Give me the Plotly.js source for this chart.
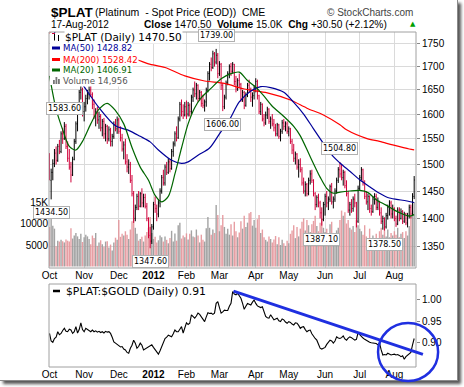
<!DOCTYPE html>
<html><head><meta charset="utf-8">
<script src="https://cdn.plot.ly/plotly-3.0.1.min.js"></script>
<style>
html,body{margin:0;padding:0;background:#fff;}
#wrap{position:relative;width:464px;height:387px;overflow:hidden;background:#fff;}
#frame{position:absolute;left:0;top:0;width:457px;height:380px;border-right:1px solid #8a8a8a;border-bottom:1px solid #8a8a8a;background:#fff;box-shadow:3px 3px 3px #555;}
#chart{position:absolute;left:0;top:0;width:464px;height:387px;}
</style></head><body>
<div id="wrap"><div id="frame"></div><div id="chart"></div></div>
<script>
// ---- data (trading days Oct-2011 .. 17-Aug-2012) ----
const monthDays = [21,21,21,20,20,22,20,22,21,21,13];
const monthLabels = ['Oct','Nov','Dec','<b>2012</b>','Feb','Mar','Apr','May','Jun','Jul','Aug'];

const open = [
1515,1470,1485,1502,1522,1508,1535,1525,1560,1550,1575,1535,1512,1495,1480,1510,1545,1580,1600,1645,1650,
1605,1615,1632,1640,1650,1640,1620,1598,1605,1588,1595,1572,1585,1560,1575,1550,1568,1545,1555,1578,1570,
1588,1565,1552,1530,1538,1505,1495,1500,1470,1445,1400,1420,1440,1422,1445,1428,1438,1422,1400,1370,1360,
1385,1425,1418,1408,1428,1450,1475,1465,1495,1485,1505,1492,1525,1540,1560,1552,1590,1620,1605,1598,
1615,1600,1618,1605,1635,1650,1642,1660,1632,1645,1622,1618,1625,1650,1685,1705,1698,1728,1710,1725,
1685,1705,1660,1615,1635,1665,1685,1700,1690,1705,1668,1652,1670,1662,1632,1645,1618,1640,1660,1650,1635,1638,
1655,1668,1638,1605,1620,1590,1582,1598,1610,1585,1590,1580,1572,1560,1578,1555,1565,1582,1575,1580,
1565,1570,1545,1528,1512,1520,1495,1500,1490,1465,1450,1462,1445,1470,1482,1470,1445,1425,1438,1428,1410,1398,
1425,1440,1428,1435,1458,1430,1435,1450,1470,1490,1482,1475,1485,1460,1445,1415,1425,1418,1435,1428,1395,
1455,1475,1490,1465,1440,1430,1440,1418,1412,1435,1440,1420,1430,1410,1395,1400,1385,1405,1420,1428,1408,
1418,1400,1390,1415,1400,1412,1395,1408,1392,1405,1420,1408,1440];
const high = [
1522,1492,1510,1530,1535,1540,1548,1565,1572,1583.6,1580,1545,1530,1505,1515,1550,1585,1610,1650,1662,1655,
1625,1640,1650,1658,1660,1645,1630,1612,1615,1605,1600,1590,1592,1580,1578,1575,1572,1560,1585,1590,1595,
1592,1575,1560,1545,1550,1520,1510,1505,1480,1450,1425,1445,1450,1448,1455,1445,1445,1428,1402,1385,1390,
1430,1440,1425,1435,1455,1480,1490,1500,1505,1512,1510,1530,1545,1565,1575,1595,1625,1630,1620,1625,
1628,1625,1622,1640,1655,1668,1665,1662,1650,1648,1640,1630,1655,1690,1710,1720,1735,1732,1739,1730,
1712,1708,1665,1640,1670,1690,1705,1708,1710,1706,1680,1675,1685,1665,1650,1648,1645,1665,1672,1655,1645,1660,
1675,1672,1640,1625,1622,1600,1605,1615,1612,1595,1600,1590,1580,1582,1580,1570,1588,1590,1585,1585,
1575,1572,1550,1540,1525,1522,1510,1512,1495,1475,1468,1465,1475,1489,1490,1472,1448,1442,1445,1432,1420,1430,
1445,1450,1440,1462,1465,1440,1455,1475,1495,1504.8,1500,1490,1488,1470,1450,1430,1435,1440,1445,1430,1460,
1480,1495,1492,1470,1450,1445,1442,1425,1440,1446,1445,1438,1432,1420,1405,1402,1410,1425,1433,1432,1425,
1420,1405,1420,1420,1418,1415,1412,1410,1410,1425,1425,1446,1478];
const low = [
1470,1434.5,1470,1495,1500,1505,1520,1522,1540,1548,1530,1505,1490,1466,1478,1508,1540,1565,1598,1630,1595,
1585,1605,1620,1630,1635,1610,1590,1575,1580,1570,1565,1555,1550,1545,1540,1545,1535,1535,1550,1565,1560,
1560,1545,1525,1510,1500,1485,1482,1465,1440,1392,1395,1415,1415,1420,1420,1420,1418,1395,1365,1347.6,1355,
1380,1410,1395,1402,1420,1445,1460,1460,1480,1482,1485,1490,1515,1535,1545,1550,1585,1595,1590,1595,
1590,1595,1595,1600,1625,1635,1630,1625,1628,1615,1612,1605,1615,1645,1670,1690,1695,1700,1705,1675,
1680,1650,1606,1610,1630,1660,1675,1680,1685,1660,1645,1648,1655,1625,1625,1610,1615,1635,1645,1625,1615,1630,
1645,1630,1600,1598,1585,1575,1578,1590,1580,1570,1575,1565,1555,1555,1550,1545,1560,1568,1565,1560,
1555,1540,1520,1505,1500,1490,1475,1485,1460,1445,1440,1440,1442,1462,1465,1440,1415,1420,1420,1400,1387.1,1395,
1405,1420,1415,1430,1425,1418,1430,1445,1465,1475,1470,1460,1455,1440,1410,1405,1410,1412,1420,1384,1392,
1450,1470,1460,1435,1425,1415,1410,1405,1410,1425,1415,1415,1405,1390,1380,1378.5,1382,1398,1405,1400,1400,
1395,1385,1388,1395,1398,1390,1392,1388,1384,1400,1400,1405,1435];
const close = [
1478,1485,1502,1522,1508,1535,1525,1560,1550,1575,1535,1512,1495,1480,1510,1545,1580,1600,1645,1650,1605,
1615,1632,1640,1650,1640,1620,1598,1605,1588,1595,1572,1585,1560,1575,1550,1568,1545,1555,1578,1570,1588,
1565,1552,1530,1538,1505,1495,1500,1470,1445,1400,1420,1440,1422,1445,1428,1438,1422,1400,1370,1360,1385,
1425,1418,1408,1428,1450,1475,1465,1495,1485,1505,1492,1525,1540,1560,1552,1590,1620,1605,1598,1615,
1600,1618,1605,1635,1650,1642,1660,1632,1645,1622,1618,1625,1650,1685,1705,1698,1728,1710,1725,1685,
1705,1660,1615,1635,1665,1685,1700,1690,1705,1668,1652,1670,1662,1632,1645,1618,1640,1660,1650,1635,1638,1655,
1668,1638,1605,1620,1590,1582,1598,1610,1585,1590,1580,1572,1560,1578,1555,1565,1582,1575,1580,1565,
1570,1545,1528,1512,1520,1495,1500,1490,1465,1450,1462,1445,1470,1482,1470,1445,1425,1438,1428,1410,1398,1425,
1440,1428,1435,1458,1430,1435,1450,1470,1490,1482,1475,1485,1460,1445,1415,1425,1418,1435,1428,1395,1455,
1475,1490,1465,1440,1430,1440,1418,1412,1435,1440,1420,1430,1410,1395,1400,1385,1405,1420,1428,1408,1418,
1400,1390,1415,1400,1412,1395,1408,1392,1405,1420,1408,1440,1470.5];
const volume = [
9200,12000,9500,8800,4700,6000,5800,6200,5900,5600,6300,6000,5800,8900,6500,7200,7800,7000,6400,7600,5700,
6800,7400,7000,6400,5200,7200,6600,7800,4800,5600,6100,5200,4600,5800,5900,4400,5100,3700,5600,6700,6200,
10800,6900,7600,7200,8200,7400,6400,8600,10500,13200,9000,7600,6000,6400,6900,5800,7200,8000,9000,11500,7800,
6400,6900,5600,6100,7200,6800,5800,7000,6200,5400,6600,8300,5800,7700,6000,9600,10200,6500,7200,6800,
7700,6300,7600,8400,7000,6800,8600,7200,5600,7400,6200,5800,8900,11500,9000,7400,8600,7800,14300,12000,
8200,9600,12000,9200,7600,8800,7400,9800,7200,10400,8200,6800,7900,10500,8800,11800,9200,10200,12400,12700,9500,10800,
9000,11000,12000,7800,8600,6800,6200,5800,7000,6400,5600,6300,7100,5200,6800,5000,6200,5400,4800,6000,
5400,7600,8400,9600,6600,9200,7000,8800,10400,11200,8400,10800,9600,8000,9800,10600,11800,9400,8200,10200,11200,9000,
8000,8800,7400,9800,10400,7800,7000,8400,9000,10800,13000,11800,12600,10000,10800,9000,8600,9400,8000,10800,9600,
8800,8200,7400,9600,7000,6400,8800,6200,7200,5600,7600,6400,8200,9000,7400,9200,7000,8600,6800,7800,7200,
8200,7400,9000,6800,7600,8000,6600,8200,7200,9400,11500,13000,14956];
const ratio = [
0.921,0.903,0.900,0.909,0.912,0.925,0.918,0.921,0.928,0.933,0.926,0.925,0.931,0.929,0.921,0.925,0.937,0.922,0.930,0.946,0.930,
0.925,0.933,0.930,0.926,0.925,0.929,0.925,0.927,0.924,0.926,0.923,0.925,0.922,0.926,0.924,0.925,0.921,0.912,0.901,0.898,0.894,
0.892,0.889,0.890,0.884,0.882,0.876,0.874,0.886,0.893,0.905,0.898,0.886,0.890,0.898,0.893,0.882,0.884,0.886,0.889,0.891,0.894,
0.888,0.882,0.877,0.872,0.880,0.890,0.898,0.909,0.912,0.917,0.915,0.913,0.920,0.929,0.925,0.925,0.931,0.937,0.922,0.935,
0.946,0.942,0.945,0.965,0.960,0.957,0.962,0.969,0.966,0.961,0.955,0.949,0.960,0.970,0.968,0.969,0.966,0.969,0.992,0.996,
0.982,0.969,0.972,0.976,0.975,0.975,0.985,0.992,1.020,1.014,1.012,1.016,1.010,1.004,0.992,0.978,0.985,0.992,0.990,0.988,0.995,1.000,
0.992,0.986,0.984,0.982,0.984,0.970,0.961,0.958,0.957,0.965,0.960,0.953,0.955,0.957,0.951,0.949,0.955,0.953,0.948,0.945,
0.949,0.947,0.943,0.941,0.946,0.945,0.940,0.933,0.936,0.937,0.930,0.925,0.928,0.929,0.920,0.913,0.909,0.905,0.896,0.886,0.884,0.886,
0.888,0.895,0.901,0.905,0.903,0.898,0.903,0.913,0.910,0.909,0.911,0.915,0.908,0.905,0.910,0.913,0.911,0.907,0.905,0.907,0.923,
0.918,0.913,0.910,0.907,0.904,0.901,0.900,0.899,0.898,0.898,0.897,0.894,0.898,0.882,0.870,0.871,0.870,0.874,0.872,0.870,0.871,
0.872,0.870,0.871,0.869,0.866,0.868,0.860,0.866,0.870,0.872,0.876,0.894,0.909];

// moving averages (day index, value)
const ma20Day = [0,4,8,12,16,20,25,30,35,40,45,50,55,60,64,68,72,76,80,84,88,92,98,104,110,115,120,125,130,135,142,148,152,158,164,168,172,176,182,188,193,198,204,209,214,218,221];
const ma20Val = [1680,1610,1568,1535,1528,1545,1580,1610,1622,1607,1580,1533,1495,1470,1442,1430,1440,1482,1532,1580,1613,1634,1654,1674,1685,1688,1670,1656,1637,1616,1595,1575,1556,1515,1476,1455,1446,1448,1450,1451,1447,1434,1424,1415,1408,1404,1406.91];
const ma50Day = [0,10,18,22,30,40,48,55,61,66,74,80,84,90,97,103,109,115,122,128,134,142,148,154,160,166,172,176,182,188,194,200,206,214,221];
const ma50Val = [1800,1725,1672,1652,1613,1576,1567,1555,1544,1528,1508,1502,1505,1518,1532,1560,1588,1625,1648,1657,1655,1645,1624,1600,1570,1541,1515,1503,1487,1471,1458,1446,1437,1433,1428.82];
const ma200Day = [0,20,40,53,60,70,82,94,106,118,132,146,156,166,176,180,192,200,208,218,221];
const ma200Val = [1775,1750,1725,1715,1706,1698,1680,1669,1664,1652,1644,1629,1612,1598,1578,1568,1551,1545,1538,1530,1528.42];

const priceTicks = [1350,1400,1450,1500,1550,1600,1650,1700,1750];
const volTicks = [5000,10000,15000];
const volTickText = ['5000','10000','15K'];
const ratioTicks = [0.90,0.95,1.00];
const ratioTickText = ['0.90','0.95','1.00'];
const swingDays = [1,9,61,101,105,165,176,203];
const swingSide = ['low','high','low','high','low','low','high','low'];

// ---- geometry ----
const W = 464, H = 387;
const PX = p => p / W, PY = p => 1 - p / H;
const xRange = [-0.3, 222.1];
const xDom = [PX(49), PX(416)];
const mainDom = [PY(268), PY(32)];
const lowDom = [PY(367), PY(284)];
const ratioRange = [0.8416, 1.0378];
const priceRange = [Math.log10(1314), Math.log10(1777)];
const volRange = [-350, 54535];
const dayToPaper = d => xDom[0] + (d - xRange[0]) / (xRange[1] - xRange[0]) * (xDom[1] - xDom[0]);
const ratioToPaper = r => lowDom[0] + (r - ratioRange[0]) / (ratioRange[1] - ratioRange[0]) * (lowDom[1] - lowDom[0]);

const days = close.map((_, i) => i);
const monthStart = [];
monthDays.reduce((acc, n) => { monthStart.push(acc); return acc + n; }, 0);

const volColors = close.map((c, i) => c >= open[i] ? 'rgba(155,155,155,0.92)' : 'rgba(228,145,150,0.88)');

const traces = [
  {type:'bar', x:days, y:volume, xaxis:'x', yaxis:'y', marker:{color:volColors, line:{width:0}}, hoverinfo:'skip'},
  {type:'ohlc', x:days, open:open, high:high, low:low, close:close, xaxis:'x', yaxis:'y3',
   increasing:{line:{color:'#000000', width:1}}, decreasing:{line:{color:'#d0003a', width:1}}, tickwidth:0.35, hoverinfo:'skip'},
  {type:'scatter', mode:'lines', x:ma200Day, y:ma200Val, xaxis:'x', yaxis:'y3', line:{color:'#ff0000', width:1.2, shape:'spline', smoothing:0.8}},
  {type:'scatter', mode:'lines', x:ma50Day, y:ma50Val, xaxis:'x', yaxis:'y3', line:{color:'#000099', width:1.2, shape:'spline', smoothing:0.8}},
  {type:'scatter', mode:'lines', x:ma20Day, y:ma20Val, xaxis:'x', yaxis:'y3', line:{color:'#006600', width:1.2, shape:'spline', smoothing:0.8}},
  {type:'scatter', mode:'lines', x:days, y:ratio, xaxis:'x2', yaxis:'y2', line:{color:'#000000', width:1.1}}
];

const tickFont = {family:'Liberation Sans, Arial, sans-serif', size:10, color:'#000'};
const layout = {
  width:W, height:H, margin:{l:0,r:0,t:0,b:0}, showlegend:false,
  paper_bgcolor:'rgba(0,0,0,0)', plot_bgcolor:'rgba(0,0,0,0)', bargap:0.15, hovermode:false,
  xaxis:{domain:xDom, range:xRange, anchor:'y', tickvals:monthStart, ticktext:monthLabels, tickfont:tickFont,
    showgrid:true, gridcolor:'#dadada', gridwidth:1, zeroline:false, showline:false, ticks:'', rangeslider:{visible:false}, fixedrange:true},
  xaxis2:{domain:xDom, range:xRange, anchor:'y2', tickvals:monthStart, ticktext:monthLabels, tickfont:tickFont,
    showgrid:false, zeroline:false, showline:false, ticks:''},
  yaxis:{domain:mainDom, range:volRange, side:'left', tickvals:volTicks, ticktext:volTickText, tickfont:tickFont,
    showgrid:false, zeroline:false, ticks:''},
  yaxis3:{overlaying:'y', anchor:'x', side:'right', type:'log', range:priceRange, tickvals:priceTicks, ticktext:priceTicks.map(String),
    tickfont:tickFont, showgrid:true, gridcolor:'#dadada', zeroline:false, ticks:'outside', ticklen:3, tickcolor:'#888'},
  yaxis2:{domain:lowDom, anchor:'x2', side:'right', range:ratioRange, tickvals:ratioTicks, ticktext:ratioTickText,
    tickfont:tickFont, showgrid:false, zeroline:false, ticks:'outside', ticklen:3, tickcolor:'#888'},
  shapes:[], annotations:[]
};

// legend background + panel borders
layout.shapes.push({type:'rect', xref:'paper', yref:'paper', x0:PX(50), x1:PX(126), y0:PY(85), y1:PY(33), fillcolor:'#fff', line:{width:0}});
layout.shapes.push({type:'rect', xref:'paper', yref:'paper', x0:xDom[0], x1:xDom[1], y0:mainDom[0], y1:mainDom[1], line:{color:'#a0a0a0', width:1}});
layout.shapes.push({type:'rect', xref:'paper', yref:'paper', x0:xDom[0], x1:xDom[1], y0:lowDom[0], y1:lowDom[1], line:{color:'#a0a0a0', width:1}});

// legend rows
const legRows = [
  {y:48, color:'#000099', text:'MA(50) 1428.82'},
  {y:59.5, color:'#ff0000', text:'MA(200) 1528.42'},
  {y:70, color:'#006600', text:'MA(20) 1406.91'}
];
legRows.forEach(r => {
  layout.shapes.push({type:'line', xref:'paper', yref:'paper', x0:PX(52), x1:PX(60), y0:PY(r.y), y1:PY(r.y), line:{color:r.color, width:3}});
  layout.annotations.push({xref:'paper', yref:'paper', x:PX(62), y:PY(r.y), xanchor:'left', yanchor:'middle', showarrow:false,
    text:r.text, font:{family:'DejaVu Sans', size:8.6, color:r.color}, bgcolor:'#fff', borderpad:0});
});
// volume icon
[[53,80],[55.5,77],[58,79]].forEach(b => layout.shapes.push({type:'rect', xref:'paper', yref:'paper', x0:PX(b[0]), x1:PX(b[0]+1.8), y0:PY(84), y1:PY(b[1]), fillcolor:'#777', line:{width:0}}));
layout.annotations.push({xref:'paper', yref:'paper', x:PX(62), y:PY(80.5), xanchor:'left', yanchor:'middle', showarrow:false,
  text:'Volume 14,956', font:{family:'DejaVu Sans', size:8.6, color:'#555'}, bgcolor:'#fff', borderpad:0});
// price icon
layout.shapes.push({type:'line', xref:'paper', yref:'paper', x0:PX(54.5), x1:PX(54.5), y0:PY(40.5), y1:PY(34), line:{color:'#000', width:1}});
layout.shapes.push({type:'line', xref:'paper', yref:'paper', x0:PX(58.5), x1:PX(58.5), y0:PY(41), y1:PY(35), line:{color:'#000', width:1}});
layout.shapes.push({type:'line', xref:'paper', yref:'paper', x0:PX(52), x1:PX(55), y0:PY(33.5), y1:PY(33.5), line:{color:'#d0003a', width:1}});
layout.annotations.push({xref:'paper', yref:'paper', x:PX(64), y:PY(37), xanchor:'left', yanchor:'middle', showarrow:false,
  text:'$PLAT (Daily) 1470.50', font:{family:'DejaVu Sans', size:10.5, color:'#000'}, bgcolor:'#fff', borderpad:0});
// lower legend
layout.shapes.push({type:'line', xref:'paper', yref:'paper', x0:PX(53), x1:PX(60), y0:PY(291), y1:PY(291), line:{color:'#000', width:2.5}});
layout.annotations.push({xref:'paper', yref:'paper', x:PX(64), y:PY(291), xanchor:'left', yanchor:'middle', showarrow:false,
  text:'$PLAT:$GOLD (Daily) 0.91', font:{family:'DejaVu Sans', size:10.8, color:'#000'}});

// swing labels
swingDays.forEach((d, k) => {
  const isHigh = swingSide[k] === 'high';
  const v = isHigh ? high[d] : low[d];
  layout.annotations.push({xref:'x', yref:'y3', x:d, y:Math.log10(v), xanchor:'center', yanchor:isHigh ? 'bottom' : 'top',
    yshift:isHigh ? 7 : -7, showarrow:false, text:v.toFixed(2), font:{family:'DejaVu Sans', size:8, color:'#000'},
    bgcolor:'#fff', bordercolor:'#b0b0b0', borderwidth:1, borderpad:1});
});

// header
const hdr = (x, y, text, size, opts) => layout.annotations.push(Object.assign({xref:'paper', yref:'paper', x:PX(x), y:PY(y),
  xanchor:'left', yanchor:'middle', showarrow:false, text:text, font:{family:'Liberation Sans, Arial', size:size, color:'#000'}}, opts || {}));
hdr(49, 12, '<b>$PLAT</b>', 13.5);
hdr(93, 12.5, '(Platinum\u00a0 - Spot Price (EOD))\u00a0 CME', 10.5);
hdr(415, 12.5, '\u00a9 StockCharts.com', 10, {xanchor:'right', font:{family:'Liberation Sans, Arial', size:10, color:'#444'}});
hdr(49, 24, '17-Aug-2012', 10);
hdr(142, 24, '<b>Close</b> 1470.50\u00a0 <b>Volume</b> 15.0K\u00a0 <b>Chg</b> +30.50 (+2.12%)', 10.2);
hdr(408, 24, '\u25b2', 7, {font:{family:'DejaVu Sans', size:7, color:'#00a000'}});

// hand-drawn trend line and circle on the ratio panel
const trendFrom = {day:111.5, ratio:1.021}, trendTo = {day:226.3, ratio:0.8716};
layout.shapes.push({type:'line', xref:'paper', yref:'paper', x0:dayToPaper(trendFrom.day), y0:ratioToPaper(trendFrom.ratio),
  x1:dayToPaper(trendTo.day), y1:ratioToPaper(trendTo.ratio), line:{color:'#1f2fe0', width:3}});
const ring = {d0:199.1, d1:235.5, r0:0.8085, r1:0.9456};
layout.shapes.push({type:'circle', xref:'paper', yref:'paper', x0:dayToPaper(ring.d0), x1:dayToPaper(ring.d1),
  y0:ratioToPaper(ring.r0), y1:ratioToPaper(ring.r1), line:{color:'#1f2fe0', width:2.5}});

Plotly.newPlot('chart', traces, layout, {staticPlot:true, displayModeBar:false});
</script></body></html>
